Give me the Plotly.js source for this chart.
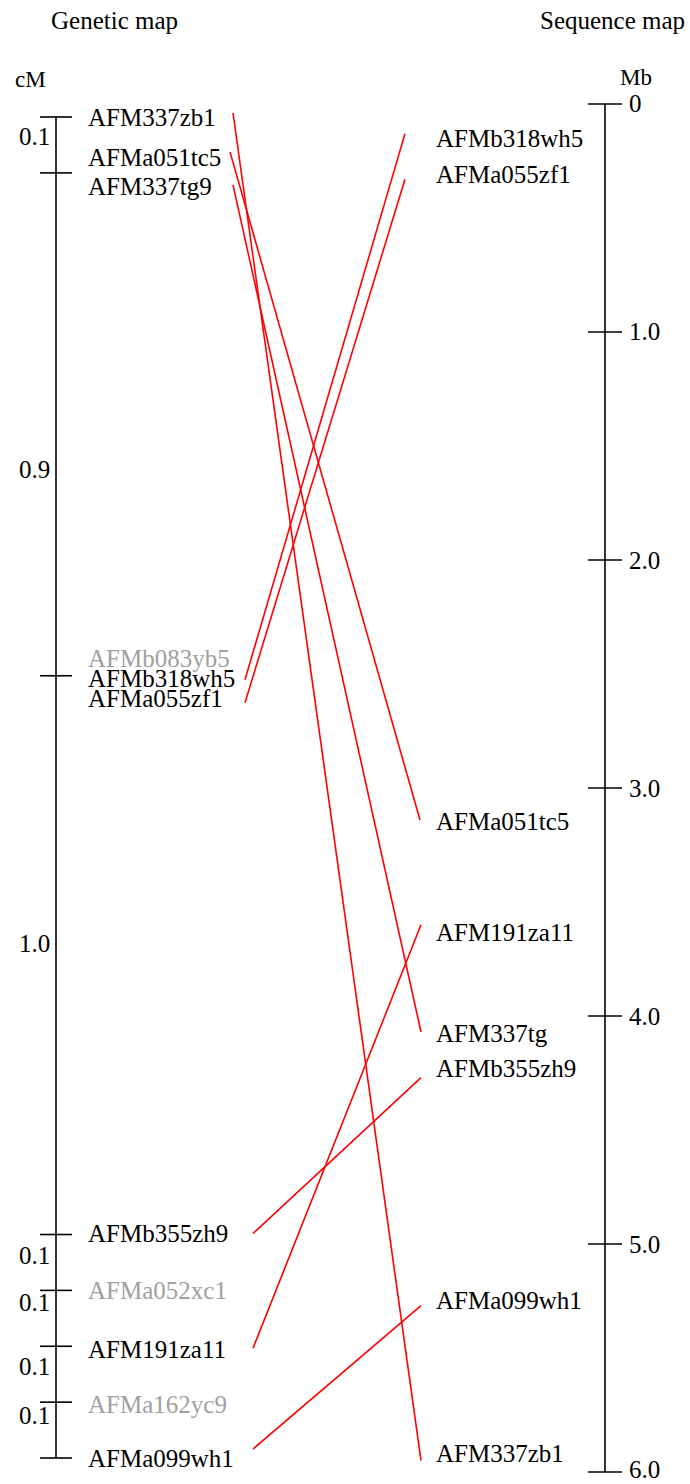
<!DOCTYPE html>
<html><head><meta charset="utf-8">
<script src="https://cdn.plot.ly/plotly-3.0.1.min.js"></script>
<style>html,body{margin:0;padding:0;background:#fff}</style>
</head><body><div id="chart" style="width:690px;height:1484px"></div>
<script>
// ---------- DATA ----------
// Genetic map markers (cumulative cM) and gray (unmapped on sequence) flag
const geneticMarkers = ["AFM337zb1","AFMa051tc5","AFM337tg9","AFMb083yb5","AFMb318wh5","AFMa055zf1","AFMb355zh9","AFMa052xc1","AFM191za11","AFMa162yc9","AFMa099wh1"];
const geneticCM      = [0, 0.1, 0.1, 1.0, 1.0, 1.0, 2.0, 2.1, 2.2, 2.3, 2.4];
const geneticGray    = [false,false,false,true,false,false,false,true,false,true,false];
// Genetic intervals (cM) between ticks
const intervalLabels = ["0.1","0.9","1.0","0.1","0.1","0.1","0.1"];
// Sequence map markers (Mb)
const seqMarkers = ["AFMb318wh5","AFMa055zf1","AFMa051tc5","AFM191za11","AFM337tg","AFMb355zh9","AFMa099wh1","AFM337zb1"];
const seqMb      = [0.13, 0.33, 3.14, 3.60, 4.07, 4.27, 5.27, 5.95];
const seqTicks   = [0, 1, 2, 3, 4, 5, 6];
const seqTickLabels = ["0","1.0","2.0","3.0","4.0","5.0","6.0"];
// Links: genetic marker -> sequence marker
const linkFrom = ["AFM337zb1","AFMa051tc5","AFM337tg9","AFMb318wh5","AFMa055zf1","AFMb355zh9","AFM191za11","AFMa099wh1"];
const linkTo   = ["AFM337zb1","AFMa051tc5","AFM337tg","AFMb318wh5","AFMa055zf1","AFMb355zh9","AFM191za11","AFMa099wh1"];

// ---------- LAYOUT / STYLE ----------
const W = 690, H = 1484;
const FONT = "Liberation Serif, Times New Roman, serif";
const FS = 25;
const GRAY = "#a0a0a0";
// axis ranges chosen so the maps sit where they should on the page
const mbRange = [6.0526, -0.4561];   // sequence axis (y)
const cmRange = [2.4465, -0.2094];   // genetic axis (y2)
const gX = 56, gTick = 16, sX = 605, sTick = 17;
const gLabelX = 86, sLabelX = 434;
// label vertical shifts (px, up positive)
const gLabelShift = [0, 15, -14, 17, -3, -23, 1, 0, -3, -2, 0];
const sLabelShift = [-5, 5, -2, -8, -2, 9, 5, 7];
const tickLabelShift = [0, 0, 0, 0, 0, 0, 3];
// link endpoints
const linkLeftX  = [233, 230, 233, 245, 245, 253, 253, 253];
const linkLeftShift = [4, 21, -12, -4, -27, 1, -2, 9]; // px up
const linkRightX = [421, 420, 421, 405, 405, 421, 421, 421];
// interval label positions (fraction down each interval)
const intervalFrac = [0.34, 0.59, 0.48, 0.38, 0.22, 0.36, 0.24];

// helpers: map genetic cM (+px shift) into the Mb axis through the two axis scales
function cmToFrac(c){ return (c - cmRange[1]) / (cmRange[0] - cmRange[1]); }
function fracToMb(f){ return mbRange[1] + f * (mbRange[0] - mbRange[1]); }
function cmToMb(c, pxUp){ return fracToMb(cmToFrac(c) - (pxUp||0)/H); }

const traces = [];
const annotations = [];
const black = {color:"#000", width:1.6};

// genetic spine
const uniqCM = [...new Set(geneticCM)];
traces.push({x:[gX,gX], y:[Math.min(...uniqCM), Math.max(...uniqCM)], yaxis:"y2", mode:"lines", line:black, hoverinfo:"skip"});
uniqCM.forEach(c => traces.push({x:[gX-gTick,gX+gTick], y:[c,c], yaxis:"y2", mode:"lines", line:black, hoverinfo:"skip"}));
// sequence spine
traces.push({x:[sX,sX], y:[seqTicks[0], seqTicks[seqTicks.length-1]], mode:"lines", line:black, hoverinfo:"skip"});
seqTicks.forEach(t => traces.push({x:[sX-sTick,sX+sTick], y:[t,t], mode:"lines", line:black, hoverinfo:"skip"}));

// links
linkFrom.forEach((m,i) => {
  const c = geneticCM[geneticMarkers.indexOf(m)];
  const s = seqMb[seqMarkers.indexOf(linkTo[i])];
  traces.push({x:[linkLeftX[i], linkRightX[i]], y:[cmToMb(c, linkLeftShift[i]), s], mode:"lines",
               line:{color:"#ff0000", width:1.6}, hoverinfo:"skip"});
});

function ann(x, y, yref, text, opts){
  annotations.push(Object.assign({x, y, xref:"x", yref, text, showarrow:false, xanchor:"left", yanchor:"middle",
    font:{family:FONT, size:FS, color:"#000"}}, opts||{}));
}
// genetic labels
geneticMarkers.forEach((m,i) => ann(gLabelX, geneticCM[i], "y2", m, {yshift:gLabelShift[i], font:{family:FONT,size:FS,color:geneticGray[i]?GRAY:"#000"}}));
// interval labels
for (let i=0;i<uniqCM.length-1;i++){
  const y = uniqCM[i] + (uniqCM[i+1]-uniqCM[i])*intervalFrac[i];
  ann(52, y, "y2", intervalLabels[i], {xanchor:"right"});
}
// sequence labels
seqMarkers.forEach((m,i) => ann(sLabelX, seqMb[i], "y", m, {yshift:sLabelShift[i]}));
seqTicks.forEach((t,i) => ann(627, t, "y", seqTickLabels[i], {yshift:tickLabelShift[i]}));

// titles and units
annotations.push({xref:"paper", yref:"paper", x:114/W, y:1-20/H, text:"Genetic map", showarrow:false, xanchor:"center", yanchor:"middle", font:{family:FONT,size:FS,color:"#000"}});
annotations.push({xref:"paper", yref:"paper", x:612/W, y:1-20/H, text:"Sequence map", showarrow:false, xanchor:"center", yanchor:"middle", font:{family:FONT,size:FS,color:"#000"}});
annotations.push({xref:"paper", yref:"paper", x:30/W, y:1-79/H, text:"cM", showarrow:false, xanchor:"center", yanchor:"middle", font:{family:FONT,size:FS-2,color:"#000"}});
annotations.push({xref:"paper", yref:"paper", x:636/W, y:1-78/H, text:"Mb", showarrow:false, xanchor:"center", yanchor:"middle", font:{family:FONT,size:FS-2,color:"#000"}});

const layout = {
  width:W, height:H, margin:{l:0,r:0,t:0,b:0}, showlegend:false,
  paper_bgcolor:"#fff", plot_bgcolor:"#fff",
  xaxis:{range:[0,W], visible:false, fixedrange:true},
  yaxis:{range:mbRange, visible:false, fixedrange:true},
  yaxis2:{range:cmRange, visible:false, overlaying:"y", fixedrange:true},
  annotations
};
Plotly.newPlot("chart", traces, layout, {staticPlot:true, displayModeBar:false});
</script>
</body></html>
